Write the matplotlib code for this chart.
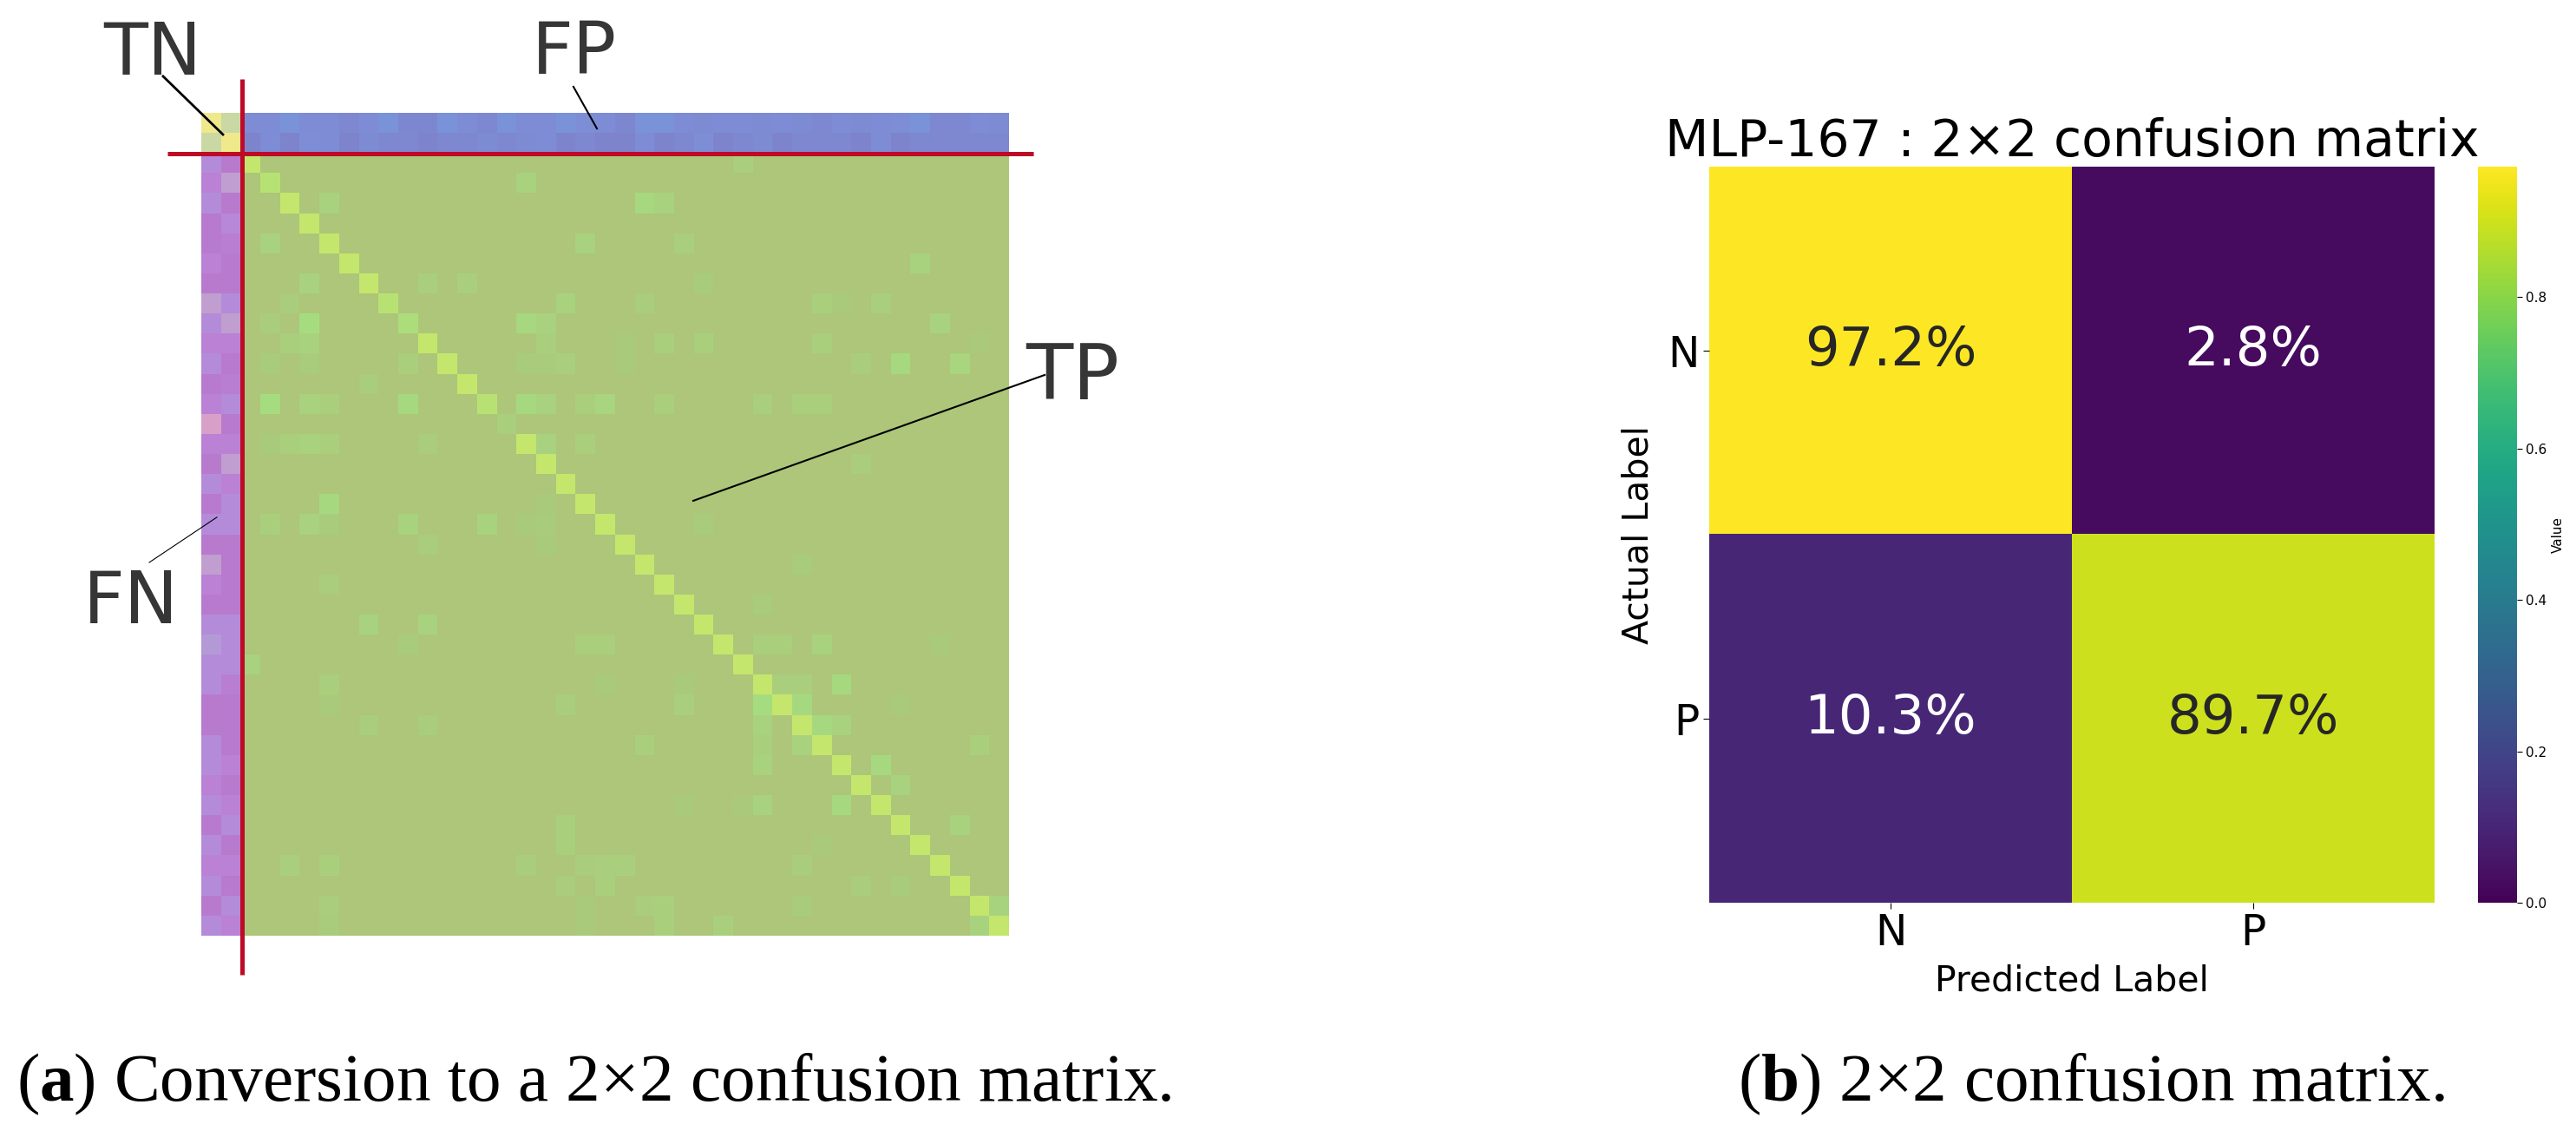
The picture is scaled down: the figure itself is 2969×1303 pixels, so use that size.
import matplotlib
matplotlib.use('Agg')
import matplotlib.pyplot as plt
import numpy as np
from matplotlib.colors import LinearSegmentedColormap

# ---------------- data ----------------
n_classes = 41
n_neg = 2

# TN block (2x2 corner)
tn_values = [[0.95, 0.45],
             [0.45, 0.95]]

# FP block: rows 0-1, columns 2..40
fp_values = [
    [0.05, 0.05, 0.10, 0.05, 0.05, 0.03, 0.05, 0.10, 0.02, 0.02, 0.10, 0.05, 0.03,
     0.10, 0.05, 0.05, 0.10, 0.06, 0.05, 0.02, 0.10, 0.10, 0.05, 0.04, 0.05, 0.05,
     0.04, 0.05, 0.04, 0.03, 0.05, 0.04, 0.05, 0.06, 0.10, 0.03, 0.03, 0.05, 0.04],
    [0.00, 0.05, 0.00, 0.06, 0.05, 0.00, 0.04, 0.03, 0.03, 0.00, 0.03, 0.03, 0.04,
     0.03, 0.04, 0.05, 0.00, 0.03, 0.00, 0.00, 0.05, 0.00, 0.03, 0.06, 0.00, 0.03,
     0.04, 0.00, 0.03, 0.03, 0.03, 0.00, 0.05, 0.00, 0.03, 0.03, 0.03, 0.03, 0.03],
]

# FN block: rows 2..40, columns 0-1
fn_values = [
    [0.10, 0.00], [0.05, 0.25], [0.10, 0.00], [0.00, 0.08], [0.00, 0.03],
    [0.05, 0.00], [0.00, 0.00], [0.25, 0.10], [0.10, 0.25], [0.05, 0.05],
    [0.10, 0.00], [0.00, 0.03], [0.05, 0.10], [0.50, 0.00], [0.05, 0.05],
    [0.00, 0.25], [0.10, 0.05], [0.00, 0.10], [0.10, 0.10], [0.00, 0.00],
    [0.25, 0.00], [0.05, 0.00], [0.00, 0.00], [0.10, 0.10], [0.18, 0.10],
    [0.10, 0.10], [0.10, 0.03], [0.00, 0.00], [0.00, 0.00], [0.10, 0.00],
    [0.10, 0.05], [0.05, 0.00], [0.10, 0.05], [0.00, 0.10], [0.10, 0.00],
    [0.05, 0.05], [0.10, 0.00], [0.00, 0.10], [0.10, 0.05],
]

# TP block diagonal: classes 2..40
tp_diag = [0.92, 0.70, 0.92, 0.90, 0.90, 0.90, 0.90, 0.72, 0.50, 0.90,
           0.90, 0.90, 0.72, 0.15, 0.90, 0.90, 0.90, 0.90, 0.90, 0.90,
           0.90, 0.90, 0.90, 0.90, 0.90, 0.90, 0.90, 0.90, 0.90, 0.90,
           0.90, 0.90, 0.90, 0.90, 0.90, 0.90, 0.90, 0.90, 0.90]

# TP block off-diagonal cells: (actual, predicted, value)
tp_offdiag = [
    (2, 27, 0.15), (3, 16, 0.18), (4, 6, 0.18), (4, 22, 0.30), (4, 23, 0.18),
    (6, 3, 0.18), (6, 19, 0.18), (6, 24, 0.15), (7, 36, 0.18), (8, 5, 0.18),
    (8, 11, 0.15), (8, 13, 0.15), (8, 25, 0.10), (9, 4, 0.12), (9, 18, 0.18),
    (9, 22, 0.12), (9, 31, 0.15), (9, 32, 0.08), (9, 34, 0.15), (10, 3, 0.12),
    (10, 5, 0.40), (10, 16, 0.30), (10, 17, 0.18), (10, 37, 0.18), (11, 4, 0.15),
    (11, 5, 0.18), (11, 17, 0.15), (11, 21, 0.08), (11, 23, 0.15), (11, 25, 0.15),
    (11, 31, 0.15), (11, 39, 0.06), (12, 3, 0.10), (12, 5, 0.10), (12, 10, 0.15),
    (12, 16, 0.10), (12, 17, 0.10), (12, 18, 0.15), (12, 21, 0.08), (12, 33, 0.12),
    (12, 35, 0.35), (12, 38, 0.25), (13, 8, 0.12), (14, 3, 0.40), (14, 5, 0.20),
    (14, 6, 0.15), (14, 10, 0.35), (14, 16, 0.35), (14, 17, 0.18), (14, 19, 0.15),
    (14, 20, 0.25), (14, 23, 0.15), (14, 28, 0.15), (14, 30, 0.15), (14, 31, 0.15),
    (16, 3, 0.08), (16, 4, 0.15), (16, 5, 0.18), (16, 6, 0.15), (16, 11, 0.12),
    (16, 17, 0.20), (16, 19, 0.15), (17, 33, 0.12), (19, 6, 0.35), (19, 17, 0.08),
    (20, 3, 0.15), (20, 5, 0.18), (20, 6, 0.10), (20, 10, 0.18), (20, 14, 0.20),
    (20, 16, 0.08), (20, 17, 0.10), (20, 25, 0.10), (21, 11, 0.12), (21, 17, 0.08),
    (22, 30, 0.10), (23, 6, 0.12), (24, 28, 0.10), (25, 8, 0.18), (25, 11, 0.18),
    (26, 10, 0.10), (26, 19, 0.15), (26, 20, 0.15), (26, 28, 0.15), (26, 29, 0.15),
    (26, 31, 0.20), (26, 37, 0.08), (27, 2, 0.18), (28, 6, 0.15), (28, 20, 0.08),
    (28, 24, 0.08), (28, 29, 0.15), (28, 30, 0.15), (28, 32, 0.35), (29, 6, 0.08),
    (29, 18, 0.12), (29, 24, 0.15), (29, 28, 0.40), (29, 30, 0.35), (29, 35, 0.08),
    (30, 8, 0.12), (30, 11, 0.12), (30, 28, 0.18), (30, 31, 0.35), (30, 32, 0.18),
    (31, 22, 0.15), (31, 28, 0.15), (31, 30, 0.18), (31, 39, 0.15), (32, 28, 0.18),
    (32, 34, 0.35), (33, 35, 0.18), (34, 24, 0.08), (34, 27, 0.06), (34, 28, 0.18),
    (34, 32, 0.35), (35, 18, 0.15), (35, 38, 0.20), (36, 18, 0.15), (36, 31, 0.08),
    (37, 4, 0.15), (37, 6, 0.15), (37, 16, 0.12), (37, 19, 0.12), (37, 20, 0.15),
    (37, 21, 0.15), (37, 30, 0.12), (38, 18, 0.12), (38, 20, 0.15), (38, 33, 0.12),
    (38, 35, 0.10), (39, 6, 0.12), (39, 19, 0.08), (39, 22, 0.12), (39, 23, 0.15),
    (39, 30, 0.10), (39, 40, 0.22), (40, 6, 0.10), (40, 19, 0.08), (40, 23, 0.15),
    (40, 26, 0.15), (40, 39, 0.18),
]

# 2x2 matrix of panel (b)
bin_labels = ['N', 'P']
bin_matrix = [[0.972, 0.028],
              [0.103, 0.897]]

# ---------------- build big matrix ----------------
conf = np.zeros((n_classes, n_classes))
conf[:n_neg, :n_neg] = tn_values
conf[:n_neg, n_neg:] = fp_values
conf[n_neg:, :n_neg] = fn_values
for i, v in enumerate(tp_diag):
    conf[n_neg + i, n_neg + i] = v
for r, c, v in tp_offdiag:
    conf[r, c] = v

tp_cmap = LinearSegmentedColormap.from_list('tp', [
    (0.0, '#adc67a'), (0.08, '#aacb7c'), (0.18, '#a9d27e'), (0.4, '#a6dc80'),
    (0.7, '#b6e274'), (0.9, '#c4e66c'), (1.0, '#c8e86c')])
fn_cmap = LinearSegmentedColormap.from_list('fn', [
    (0.0, '#b87acc'), (0.05, '#bb82d6'), (0.1, '#b48cda'), (0.18, '#b39ad8'),
    (0.25, '#c09ed0'), (0.5, '#d8a0c8'), (1.0, '#d8a0c8')])
fp_cmap = LinearSegmentedColormap.from_list('fp', [
    (0.0, '#7d84cc'), (0.05, '#7e8dd6'), (0.1, '#7a93d9'), (1.0, '#7a93d9')])
tn_cmap = LinearSegmentedColormap.from_list('tn', [
    (0.0, '#b4c8b0'), (0.45, '#cad8a4'), (0.95, '#efe98c'), (1.0, '#f0ea8c')])

regions = [
    (slice(0, n_neg), slice(0, n_neg), tn_cmap),
    (slice(0, n_neg), slice(n_neg, None), fp_cmap),
    (slice(n_neg, None), slice(0, n_neg), fn_cmap),
    (slice(n_neg, None), slice(n_neg, None), tp_cmap),
]

# ---------------- figure ----------------
W, H = 2969, 1303
fig = plt.figure(figsize=(W / 100, H / 100), dpi=100)


def px_axes(x0, y0, x1, y1):
    return fig.add_axes([x0 / W, 1 - y1 / H, (x1 - x0) / W, (y1 - y0) / H])


# panel (a)
ax = px_axes(232, 130, 1163, 1078)
ext = (-0.5, n_classes - 0.5, n_classes - 0.5, -0.5)
for rs, cs, cmap in regions:
    part = np.full(conf.shape, np.nan)
    part[rs, cs] = conf[rs, cs]
    ax.imshow(part, cmap=cmap, vmin=0, vmax=1, extent=ext, aspect='auto',
              interpolation='nearest')
ax.set_xlim(-0.5, n_classes - 0.5)
ax.set_ylim(n_classes - 0.5, -0.5)
ax.axis('off')

split = n_neg - 0.5 + 0.08
red = '#be0a26'
ax.plot([split, split], [-2.2, 42.45], color=red, lw=3.6, clip_on=False,
        solid_capstyle='butt')
ax.plot([-2.2, 41.75], [split - 0.03, split - 0.03], color=red, lw=3.6,
        clip_on=False, solid_capstyle='butt')

txt_col = '#363636'
labels = [
    ('TN', -2.97, -2.40, 60, [(-2.44, 0.60), (-2.32, 0.58)], 2.0),
    ('FP', 18.44, -2.45, 60, [(18.39, 19.58), (-1.80, 0.28)], 1.5),
    ('TP', 43.72, 13.77, 64, [(42.31, 24.47), (12.56, 18.83)], 1.5),
    ('FN', -4.07, 24.93, 60, [(-3.14, 0.29), (21.90, 19.65)], 0.8),
]
for name, tx, ty, fs, (lx, ly), lw in labels:
    ax.text(tx, ty, name, fontsize=fs, color=txt_col, ha='center',
            va='baseline', clip_on=False)
    ax.plot(lx, ly, color='black', lw=lw, clip_on=False)

# panel (b)
hm = px_axes(1970, 192, 2806, 1040)
cax = px_axes(2856, 192, 2901, 1040)
bm = np.array(bin_matrix)
im = hm.imshow(bm, cmap='viridis', vmin=0, vmax=bm.max(), aspect='auto',
               interpolation='nearest')
for i in range(2):
    for j in range(2):
        col = '#262626' if bm[i, j] > 0.5 else 'white'
        hm.text(j, i, f'{bm[i, j] * 100:.1f}%', ha='center', va='center',
                fontsize=45, color=col)
hm.set_xticks(range(2))
hm.set_yticks(range(2))
hm.set_xticklabels(bin_labels)
hm.set_yticklabels(bin_labels, rotation=0)
hm.tick_params(labelsize=35, length=5, width=0.8, pad=3)
for s in hm.spines.values():
    s.set_visible(False)
hm.set_xlabel('Predicted Label', fontsize=29.5, labelpad=8)
hm.set_ylabel('Actual Label', fontsize=29.5, labelpad=10)
hm.set_title('MLP-167 : 2\u00d72 confusion matrix', fontsize=42, pad=8)

cbar = fig.colorbar(im, cax=cax)
cbar.outline.set_visible(False)
cbar.set_ticks([0.0, 0.2, 0.4, 0.6, 0.8])
cax.tick_params(labelsize=11, length=4, width=0.8)
cbar.set_label('Value', fontsize=11)

# captions
plt.rcParams['mathtext.fontset'] = 'custom'
plt.rcParams['mathtext.bf'] = 'Liberation Serif:bold'
plt.rcParams['mathtext.rm'] = 'Liberation Serif'
fig.text(19 / W, 1 - 1268 / H,
         r'($\mathbf{a}$) Conversion to a 2' + '\u00d7' + '2 confusion matrix.',
         fontsize=57, family='Liberation Serif', ha='left', va='baseline')
fig.text(2003 / W, 1 - 1268 / H,
         r'($\mathbf{b}$) 2' + '\u00d7' + '2 confusion matrix.',
         fontsize=57, family='Liberation Serif', ha='left', va='baseline')

fig.savefig('out.png', dpi=100)
